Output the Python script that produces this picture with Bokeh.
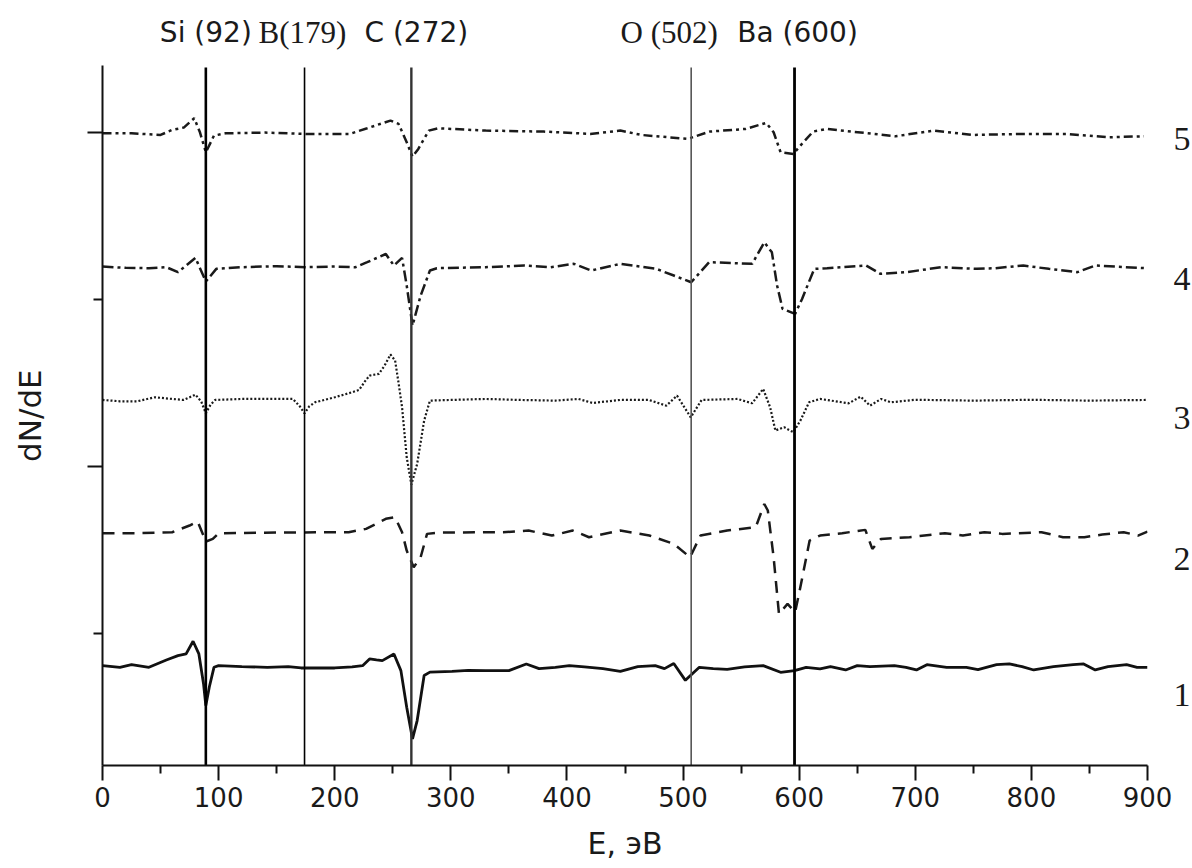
import math
from bokeh.plotting import figure
from bokeh.layouts import row
from bokeh.models import Range1d, FixedTicker
from bokeh.core.properties import value
from bokeh.embed import file_html
from bokeh.resources import INLINE

# ---------------- data ----------------
E1 = [0, 15, 25, 40, 55, 65, 72, 78, 83, 87, 89, 92, 96, 100, 120, 142, 160, 171, 200, 215,
      224, 230, 236, 241, 251, 257, 262, 267, 271, 277, 282, 301, 315, 330, 350, 365, 376,
      390, 402, 415, 431, 446, 461, 476, 484, 492, 502, 514, 526, 538, 553, 569, 584, 596,
      606, 618, 627, 640, 650, 661, 682, 692, 701, 710, 727, 744, 754, 770, 781, 792, 802,
      819, 836, 845, 855, 866, 882, 891, 900]
V1 = [0.808, 0.798, 0.814, 0.798, 0.842, 0.868, 0.878, 0.954, 0.878, 0.70, 0.569, 0.68,
      0.798, 0.808, 0.802, 0.798, 0.802, 0.794, 0.794, 0.80, 0.808, 0.848, 0.842, 0.838,
      0.878, 0.778, 0.559, 0.369, 0.479, 0.749, 0.769, 0.774, 0.78, 0.778, 0.778, 0.818,
      0.79, 0.798, 0.808, 0.80, 0.79, 0.774, 0.802, 0.808, 0.79, 0.821, 0.72, 0.798, 0.79,
      0.786, 0.80, 0.808, 0.768, 0.778, 0.798, 0.788, 0.802, 0.782, 0.808, 0.802, 0.808,
      0.798, 0.782, 0.814, 0.798, 0.798, 0.784, 0.814, 0.818, 0.802, 0.782, 0.802, 0.814,
      0.818, 0.782, 0.802, 0.814, 0.798, 0.798]

E2 = [0, 30, 60, 75, 82, 89, 95, 100, 150, 212, 227, 244, 252, 258, 262, 268, 274, 279.5,
      290, 345, 367, 387, 405, 419, 446, 471, 492, 506, 515, 538, 562.6, 570, 573, 578,
      582.6, 590, 596.5, 601, 609, 618, 637, 657, 663, 670.5, 695, 725.6, 741, 759.5,
      774.8, 788.6, 808.7, 827.2, 845.6, 861, 879.5, 891.8, 900]
V2 = [1.601, 1.601, 1.607, 1.647, 1.671, 1.551, 1.567, 1.601, 1.605, 1.607, 1.627, 1.687,
      1.697, 1.607, 1.497, 1.397, 1.457, 1.597, 1.605, 1.607, 1.617, 1.587, 1.617, 1.577,
      1.617, 1.587, 1.537, 1.457, 1.587, 1.617, 1.637, 1.776, 1.737, 1.457, 1.118, 1.178,
      1.128, 1.277, 1.557, 1.587, 1.601, 1.621, 1.507, 1.567, 1.577, 1.601, 1.587, 1.607,
      1.597, 1.601, 1.607, 1.577, 1.577, 1.593, 1.607, 1.587, 1.611]

E3 = [0, 15, 30, 45, 60, 70, 80, 85, 89, 93, 97, 120, 150, 164, 170, 174, 178, 183, 200,
      215, 221, 226, 230, 238, 243, 248, 252, 255, 258, 262, 266, 271, 277, 282, 300, 330,
      360, 390, 410, 422, 446, 470, 485.6, 494.8, 506.6, 516, 547, 559.5, 569, 575, 579.5,
      587, 591, 595, 601, 608.5, 618, 642.6, 653, 661, 670.6, 679, 700, 750, 800, 850, 900]
V3 = [2.399, 2.391, 2.391, 2.415, 2.405, 2.399, 2.431, 2.39, 2.319, 2.37, 2.399, 2.405,
      2.405, 2.405, 2.36, 2.319, 2.36, 2.385, 2.415, 2.445, 2.459, 2.51, 2.545, 2.555, 2.605,
      2.671, 2.635, 2.50, 2.355, 2.056, 1.892, 2.016, 2.275, 2.395, 2.399, 2.405, 2.399,
      2.395, 2.405, 2.381, 2.399, 2.40, 2.365, 2.425, 2.295, 2.399, 2.405, 2.379, 2.465,
      2.355, 2.216, 2.236, 2.22, 2.206, 2.275, 2.385, 2.405, 2.379, 2.419, 2.365, 2.405,
      2.385, 2.40, 2.395, 2.40, 2.395, 2.399]

E4 = [0, 20, 40, 55, 65, 80, 89, 98, 120, 150, 175, 200, 218, 228, 244, 251, 258, 262, 267,
      274, 282, 288, 330, 363, 386, 406, 421, 446, 477, 492, 507, 522.5, 559.5, 570, 576.5,
      581, 585.7, 596.5, 602.5, 613, 624, 657.6, 670, 692, 722.6, 753, 769, 793, 815,
      839.6, 855, 898, 900]
V4 = [3.198, 3.19, 3.188, 3.194, 3.164, 3.250, 3.108, 3.184, 3.194, 3.20, 3.194, 3.198,
      3.194, 3.224, 3.273, 3.204, 3.250, 3.084, 2.844, 3.024, 3.174, 3.188, 3.194, 3.204,
      3.194, 3.214, 3.174, 3.214, 3.184, 3.144, 3.104, 3.224, 3.214, 3.343, 3.283, 3.084,
      2.944, 2.914, 3.004, 3.184, 3.188, 3.204, 3.154, 3.164, 3.194, 3.184, 3.188, 3.204,
      3.184, 3.164, 3.204, 3.188, 3.188]

E5 = [0, 25, 50, 60, 70, 79, 84, 89, 96, 106, 140, 175, 213, 228, 248, 255, 262, 267, 272,
      281, 289, 330, 380, 420, 446, 464, 504, 523, 554, 571.6, 578, 584, 595, 601, 612,
      624, 683, 716, 750, 793, 830, 867, 897]
V5 = [3.996, 3.996, 3.986, 4.016, 4.03, 4.086, 4.00, 3.882, 3.982, 3.996, 4.0, 3.992,
      3.992, 4.026, 4.072, 4.052, 3.942, 3.856, 3.902, 4.012, 4.026, 4.012, 4.006, 3.992,
      4.012, 3.986, 3.962, 4.006, 4.022, 4.058, 4.002, 3.882, 3.872, 3.922, 4.006, 4.022,
      3.978, 4.012, 3.986, 3.992, 3.992, 3.972, 3.978]

curve_names = ["1", "2", "3", "4", "5"]

# element marker lines (energy, eV) and their labels
line_E = [89, 174, 266, 507, 596]
line_labels = ["Si (92)", "B(179)", "C (272)", "O (502)", "Ba (600)"]

x_ticks = [0, 100, 200, 300, 400, 500, 600, 700, 800, 900]
x_minor = [50, 150, 250, 350, 450, 550, 650, 750, 850]

# ---------------- layout / style constants ----------------
X_MAX = 900
Y0, Y1 = 0.21, 4.40          # axis extent
Y_TOP = 4.791                # frame top (room for the element labels)
FRAME_H = 765
BOTTOM = 103
curve_label_y = [0.635, 1.449, 2.293, 3.126, 3.964]
top_label_y = 4.60
ylabel_y = 2.305
curve_styles = [
    dict(line_width=2.8, line_color="#111111"),
    dict(line_width=2.5, line_color="#1a1a1a", line_dash="12 8"),
    dict(line_width=2.2, line_color="#1a1a1a", line_dash="2 2"),
    dict(line_width=2.5, line_color="#1a1a1a", line_dash="11 4 3 4"),
    dict(line_width=2.5, line_color="#1a1a1a", line_dash="9 4 3 4 3 4"),
]
vline_styles = [
    dict(line_width=2.6, line_color="#000000"),
    dict(line_width=1.6, line_color="#000000"),
    dict(line_width=2.4, line_color="#333333"),
    dict(line_width=1.6, line_color="#555555"),
    dict(line_width=2.8, line_color="#000000"),
]
label_fonts = [("DejaVu Sans", "28px", 0), ("Liberation Serif", "31px", -2),
               ("DejaVu Sans", "28px", 5), ("Liberation Serif", "31px", -22),
               ("DejaVu Sans", "28px", 3)]

y_range = Range1d(Y0, Y_TOP)


def blank(width):
    f = figure(frame_width=width, frame_height=FRAME_H, min_border_left=0, min_border_right=0,
               min_border_top=0, min_border_bottom=BOTTOM, x_range=Range1d(0, width),
               y_range=y_range, x_axis_type=None, y_axis_type=None,
               output_backend="svg", toolbar_location=None)
    f.grid.visible = False
    f.outline_line_color = None
    f.background_fill_color = "white"
    f.border_fill_color = "white"
    return f


# left strip: y-axis title
left = blank(60)
left.text(x=[29], y=[ylabel_y], text=["dN/dE"], angle=math.pi / 2, text_align="center",
          text_baseline="middle", text_font=value("DejaVu Sans"), text_font_size="31px",
          text_color="#1a1a1a")

# right strip: curve numbers
right = blank(19)
right.text(x=[0] * 5, y=curve_label_y, text=curve_names, text_align="left",
           text_baseline="middle", text_font=value("Liberation Serif"),
           text_font_size="34px", text_color="#1a1a1a")

# main plot
p = figure(frame_width=1045, frame_height=FRAME_H,
           min_border_left=42, min_border_right=26, min_border_top=0, min_border_bottom=BOTTOM,
           x_range=Range1d(0, X_MAX), y_range=y_range,
           output_backend="svg", toolbar_location=None)
p.grid.visible = False
p.outline_line_color = None
p.background_fill_color = "white"
p.border_fill_color = "white"

xa = p.xaxis[0]
xa.ticker = FixedTicker(ticks=x_ticks, minor_ticks=x_minor)
xa.axis_line_width = 2
xa.axis_line_color = "#111111"
xa.major_tick_line_width = 2
xa.minor_tick_line_width = 2
xa.major_tick_line_color = "#111111"
xa.minor_tick_line_color = "#111111"
xa.major_tick_out = 15
xa.major_tick_in = 0
xa.minor_tick_out = 8
xa.minor_tick_in = 0
xa.major_label_text_font = "DejaVu Sans"
xa.major_label_text_font_size = "26px"
xa.major_label_text_color = "#1a1a1a"
xa.major_label_standoff = 6
xa.axis_label = "E, эВ"
xa.axis_label_text_font = "DejaVu Sans"
xa.axis_label_text_font_size = "30px"
xa.axis_label_text_font_style = "normal"
xa.axis_label_text_color = "#1a1a1a"
xa.axis_label_standoff = 16

ya = p.yaxis[0]
ya.bounds = (Y0, Y1)
ya.ticker = FixedTicker(ticks=[2, 4], minor_ticks=[1, 3])
ya.major_label_overrides = {2: "", 4: ""}
ya.axis_line_width = 2
ya.axis_line_color = "#111111"
ya.major_tick_line_width = 2
ya.minor_tick_line_width = 2
ya.major_tick_line_color = "#111111"
ya.minor_tick_line_color = "#111111"
ya.major_tick_out = 15
ya.major_tick_in = 0
ya.minor_tick_out = 9
ya.minor_tick_in = 0
ya.major_label_standoff = 0

for E, V, st in zip([E1, E2, E3, E4, E5], [V1, V2, V3, V4, V5], curve_styles):
    p.line(E, V, **st)

for e, lab, st, (fnt, fs, dx) in zip(line_E, line_labels, vline_styles, label_fonts):
    p.segment(x0=[e], y0=[Y0], x1=[e], y1=[Y1 - 0.01], **st)
    p.text(x=[e], y=[top_label_y], text=[lab], text_align="center",
           text_baseline="middle", text_font=value(fnt), text_font_size=fs,
           text_color="#1a1a1a", x_offset=dx)

layout = row(left, p, right, spacing=0)
open("out.html", "w").write(file_html(layout, INLINE))
